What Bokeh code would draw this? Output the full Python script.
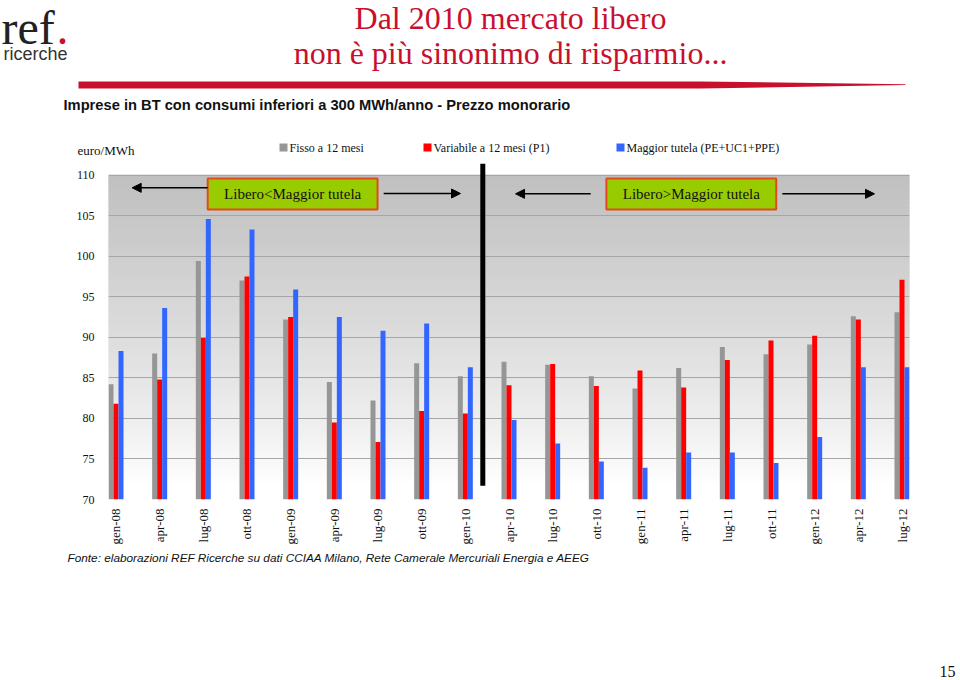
import math
import numpy as np
from bokeh.plotting import figure
from bokeh.layouts import column
from bokeh.models import Range1d, FixedTicker, Arrow, NormalHead
from bokeh.core.properties import value
from bokeh.embed import file_html
from bokeh.resources import INLINE

# ---------------- data ----------------
months = ["gen-08", "apr-08", "lug-08", "ott-08", "gen-09", "apr-09", "lug-09", "ott-09",
          "gen-10", "apr-10", "lug-10", "ott-10", "gen-11", "apr-11", "lug-11", "ott-11",
          "gen-12", "apr-12", "lug-12"]
fisso = [84.2, 88.0, 99.4, 97.0, 92.2, 84.5, 82.2, 86.8, 85.2, 87.0, 86.6, 85.2, 83.7,
         86.2, 88.8, 87.9, 89.1, 92.6, 93.1]
variabile = [81.8, 84.8, 89.9, 97.5, 92.5, 79.5, 77.1, 80.9, 80.6, 84.1, 86.7, 84.0, 85.9,
             83.8, 87.2, 89.6, 90.2, 92.2, 97.1]
tutela = [88.3, 93.6, 104.6, 103.3, 95.9, 92.5, 90.8, 91.7, 86.3, 79.8, 76.9, 74.7, 73.9,
          75.8, 75.8, 74.5, 77.7, 86.3, 86.3]
series_names = ["Fisso a 12 mesi", "Variabile a 12 mesi (P1)", "Maggior tutela (PE+UC1+PPE)"]
series_colors = ["#969696", "#ff0000", "#3366ff"]
yticks = [70, 75, 80, 85, 90, 95, 100, 105, 110]
box_labels = ["Libero<Maggior tutela", "Libero>Maggior tutela"]

SERIF = "Liberation Serif"
SANS = "Liberation Sans"
TITLE_RED = "#c8102e"


def no_align(fig):
    try:
        fig.frame_align = False
    except Exception:
        pass


def page_fig(h):
    f = figure(width=960, height=h, x_range=Range1d(0, 960), y_range=Range1d(h, 0),
               x_axis_location=None, y_axis_location=None, toolbar_location=None,
               output_backend="svg", min_border=0, title=None)
    f.xgrid.visible = False
    f.ygrid.visible = False
    f.outline_line_color = None
    no_align(f)
    return f


def txt(f, x, y, s, size, font=SERIF, color="#111111", align="left", style="normal"):
    f.text(x=[x], y=[y], text=[s], text_font=value(font), text_font_size=size,
           text_color=color, text_align=align, text_baseline="middle", text_font_style=style)


# ---------------- header ----------------
hdr = page_fig(163)
txt(hdr, 1, 27, "ref", "48px", color="#222222")
txt(hdr, 56, 27, ".", "48px", color=TITLE_RED)
txt(hdr, 3, 53, "ricerche", "18px", font=SANS, color="#333333")
txt(hdr, 510, 17, "Dal 2010 mercato libero", "32px", color=TITLE_RED, align="center")
txt(hdr, 510, 52.5, "non è più sinonimo di risparmio...", "32px", color=TITLE_RED, align="center")
hdr.patch(x=[78, 700, 905, 905, 700, 78], y=[81, 81, 83.8, 84.6, 88, 88],
          fill_color=TITLE_RED, line_color=None)
txt(hdr, 63, 104, "Imprese in BT con consumi inferiori a 300 MWh/anno - Prezzo monorario", "14.7px",
    font=SANS, style="bold")
txt(hdr, 77, 150, "euro/MWh", "13px")
leg_x = [283, 427, 620]
hdr.rect(x=leg_x, y=[147] * 3, width=8, height=8, fill_color=series_colors, line_color=None)
hdr.text(x=[lx + 6 for lx in leg_x], y=[147] * 3, text=series_names, text_font=value(SERIF),
         text_font_size="12px", text_color="#111111", text_baseline="middle")

# ---------------- chart ----------------
W = 0.1145
n = len(months)
idx = np.arange(n)
x0, x1 = -1.5 * W, (n - 1) + 1.5 * W
chart = figure(width=960, height=387, x_range=Range1d(x0, x1), y_range=Range1d(70, 111.43),
               output_backend="svg", toolbar_location=None, title=None,
               min_border_left=108, min_border_right=51, min_border_top=0, min_border_bottom=51)
chart.outline_line_color = None
no_align(chart)

edges = np.linspace(70, 110, 81)
bot, top = edges[:-1], edges[1:]
mid = (bot + top) / 2
t = np.clip((mid - 72) / (110 - 72), 0, 1) ** 0.85
g = (255 - t * (255 - 192)).astype(int)
bg_cols = ["#%02x%02x%02x" % (v, v, v) for v in g]
chart.quad(left=x0, right=x1, bottom=bot, top=top, fill_color=bg_cols, line_color=bg_cols,
           line_width=1, level="image")

for k, (vals, col) in enumerate(zip([fisso, variabile, tutela], series_colors)):
    chart.vbar(x=idx + (k - 1) * W, top=vals, bottom=70, width=W, fill_color=col, line_color=None)

chart.quad(left=[2.10, 11.23], right=[5.99, 15.12], bottom=[105.76] * 2, top=[109.58] * 2,
           fill_color="#99cc00", line_color="#e04a1c", line_width=2)
chart.text(x=[4.045, 13.175], y=[107.67] * 2, text=box_labels, text_font=value(SERIF),
           text_font_size="15px", text_color="#111111", text_align="center", text_baseline="middle")
for xs, xe, yy in [(2.10, 0.37, 108.43), (6.13, 7.89, 107.73), (10.87, 9.15, 107.69), (15.26, 17.37, 107.69)]:
    chart.add_layout(Arrow(end=NormalHead(size=9, fill_color="black", line_color="black"),
                           x_start=xs, y_start=yy, x_end=xe, y_end=yy,
                           line_color="black", line_width=1.5))
chart.segment(x0=[8.40], y0=[71.7], x1=[8.40], y1=[111.43], line_color="black", line_width=5)

chart.xgrid.visible = False
chart.ygrid.ticker = FixedTicker(ticks=yticks)
chart.ygrid.grid_line_color = "#a6a6a6"
chart.ygrid.grid_line_width = 1

chart.yaxis.ticker = FixedTicker(ticks=yticks)
chart.xaxis.ticker = FixedTicker(ticks=[int(i) for i in idx])
chart.xaxis.major_label_overrides = {int(i): m for i, m in zip(idx, months)}
chart.xaxis.major_label_orientation = math.pi / 2
for ax in (chart.xaxis, chart.yaxis):
    ax.axis_line_color = None
    ax.major_tick_line_color = None
    ax.minor_tick_line_color = None
    ax.major_label_text_font = SERIF
    ax.major_label_text_color = "#111111"
chart.yaxis.major_label_text_font_size = "12px"
chart.yaxis.major_label_standoff = 8
chart.xaxis.major_label_text_font_size = "13px"
chart.xaxis.major_label_standoff = 3

# ---------------- footer ----------------
ftr = page_fig(130)
txt(ftr, 67, 7, "Fonte: elaborazioni REF Ricerche su dati CCIAA Milano, Rete Camerale Mercuriali Energia e AEEG",
    "11.8px", font=SANS, style="italic")
txt(ftr, 947, 121, "15", "16px", align="center")

layout = column(hdr, chart, ftr, spacing=0)
open("out.html", "w").write(file_html(layout, INLINE))
